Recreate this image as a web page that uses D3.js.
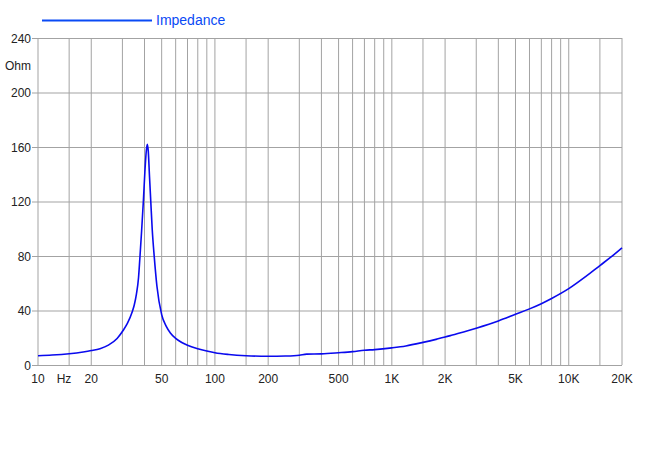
<!DOCTYPE html>
<html>
<head>
<meta charset="utf-8">
<script src="https://cdn.jsdelivr.net/npm/d3@7"></script>
<style>
  html, body { margin: 0; padding: 0; background: #fff; }
  svg { display: block; font-family: "Liberation Sans", Arial, Helvetica, sans-serif; }
</style>
</head>
<body>
<svg id="chart" width="650" height="470"></svg>
<script>
// ---- Data ----
const freqs = [10, 12, 15, 18, 20, 22.4, 25, 28, 30.4, 32, 34.1, 35, 36, 37, 37.7, 38.5, 39.4, 40.2, 41, 41.5, 42, 42.7, 43.4, 44.2, 45.4, 47, 50, 53, 56, 60, 65, 70, 80, 90, 100, 120, 150, 200, 250, 300, 330, 400, 500, 600, 700, 800, 1000, 1200, 1500, 1800, 2000, 2200, 3000, 4000, 5000, 6000, 7000, 8000, 10000, 12500, 15000, 17500, 20000];
const impedance = [6.8, 7.3, 8.3, 9.6, 10.6, 12, 14.6, 19.5, 25.7, 30.5, 39, 44, 52, 64, 79.5, 98, 120, 142, 158, 162, 157, 138, 120, 100, 79.5, 58, 37, 28.5, 23.5, 19.5, 16.5, 14.5, 12, 10.3, 9, 7.7, 6.8, 6.4, 6.6, 7.2, 8, 8.2, 9, 9.8, 10.8, 11.3, 12.6, 14, 16.6, 19, 20.5, 22, 27, 32.3, 37.2, 41.2, 45, 48.8, 56, 65, 73, 79.7, 86];
const gridFreqs = [10, 15, 20, 30, 40, 50, 60, 70, 80, 90, 100, 150, 200, 300, 400, 500, 600, 700, 800, 900, 1000, 1500, 2000, 3000, 4000, 5000, 6000, 7000, 8000, 9000, 10000, 15000, 20000];
const xTickValues = [10, 20, 50, 100, 200, 500, 1000, 2000, 5000, 10000, 20000];
const xTickLabels = ["10", "20", "50", "100", "200", "500", "1K", "2K", "5K", "10K", "20K"];
const yTickValues = [0, 40, 80, 120, 160, 200, 240];
const seriesName = "Impedance";
const yUnit = "Ohm";
const xUnit = "Hz";

// ---- Layout ----
const svg = d3.select("#chart");
const mLeft = 38, mRight = 622, mTop = 38, mBottom = 365;

const x = d3.scaleLog().domain([10, 20000]).range([mLeft, mRight]);
const y = d3.scaleLinear().domain([0, 240]).range([mBottom, mTop]);

const gridColor = "#a3a3a3";

// vertical grid
svg.append("g").selectAll("line").data(gridFreqs).join("line")
  .attr("x1", d => x(d)).attr("x2", d => x(d))
  .attr("y1", mTop).attr("y2", mBottom)
  .attr("stroke", gridColor).attr("stroke-width", 1);

// horizontal grid + tick marks
svg.append("g").selectAll("line").data(yTickValues).join("line")
  .attr("x1", mLeft - 6).attr("x2", mRight)
  .attr("y1", d => y(d) + 0.5).attr("y2", d => y(d) + 0.5)
  .attr("stroke", gridColor).attr("stroke-width", 1);

// y tick labels
svg.append("g").selectAll("text").data(yTickValues).join("text")
  .attr("x", 31).attr("y", d => y(d) + 4.5)
  .attr("text-anchor", "end")
  .attr("font-size", 12).attr("fill", "#222")
  .text(d => d);

svg.append("text").attr("x", 18).attr("y", 70)
  .attr("text-anchor", "middle").attr("font-size", 12).attr("fill", "#222")
  .text(yUnit);

// x tick labels
svg.append("g").selectAll("text").data(xTickValues).join("text")
  .attr("x", d => x(d)).attr("y", 383)
  .attr("text-anchor", "middle")
  .attr("font-size", 12).attr("fill", "#222")
  .text((d, i) => xTickLabels[i]);

svg.append("text").attr("x", 64).attr("y", 383)
  .attr("text-anchor", "middle").attr("font-size", 12).attr("fill", "#222")
  .text(xUnit);

// curve
const data = freqs.map((f, i) => [f, impedance[i]]);
const line = d3.line()
  .x(d => x(d[0])).y(d => y(d[1]))
  .curve(d3.curveMonotoneX);

svg.append("path").datum(data)
  .attr("d", line)
  .attr("fill", "none")
  .attr("stroke", "#0a0aee")
  .attr("stroke-width", 1.6);

// legend
svg.append("line").attr("x1", 42).attr("x2", 152).attr("y1", 20.5).attr("y2", 20.5)
  .attr("stroke", "#0a4af5").attr("stroke-width", 2.2);
svg.append("text").attr("x", 156).attr("y", 25)
  .attr("font-size", 14).attr("fill", "#0a4af5")
  .text(seriesName);
</script>
</body>
</html>
